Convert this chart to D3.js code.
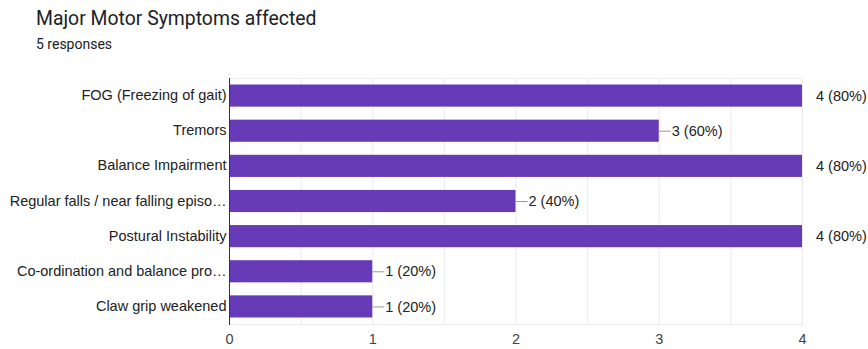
<!DOCTYPE html>
<html>
<head>
<meta charset="utf-8">
<script src="https://cdn.jsdelivr.net/npm/d3@7"></script>
<style>
  html, body { margin: 0; padding: 0; background: #fff; }
  svg { display: block; font-family: "Liberation Sans", Arial, sans-serif; }
</style>
</head>
<body>
<svg id="chart" width="868" height="349"></svg>
<script>
// Survey answers: how many of the respondents reported each motor symptom
const categories = [
  "FOG (Freezing of gait)",
  "Tremors",
  "Balance Impairment",
  "Regular falls / near falling episo…",
  "Postural Instability",
  "Co-ordination and balance pro…",
  "Claw grip weakened"
];
const counts = [4, 3, 4, 2, 4, 1, 1];
const totalResponses = 5;
const xTicks = [0, 1, 2, 3, 4];
const gridSteps = [0.5, 1, 1.5, 2, 2.5, 3, 3.5, 4];

const svg = d3.select("#chart");
const plotLeft = 229, plotRight = 802, plotTop = 78, plotBottom = 324;
const labelFont = "\"Liberation Sans\", Arial, sans-serif";
const headFont = "Roboto, Arial, sans-serif";
const labelSize = 14.5;

const x = d3.scaleLinear().domain([0, 4]).range([plotLeft, plotRight]);
const y = d3.scaleBand().domain(categories).range([plotTop, plotBottom]).paddingInner(0.37).paddingOuter(0.185);

// Title block
svg.append("text").attr("x", 36).attr("y", 25).attr("font-family", headFont)
  .attr("font-size", 19.4).attr("fill", "#202124").text("Major Motor Symptoms affected");
svg.append("text").attr("x", 36).attr("y", 49).attr("font-family", headFont)
  .attr("font-size", 14).attr("fill", "#202124").text(totalResponses + " responses");

// Gridlines and frame
const grid = svg.append("g");
grid.selectAll("line.v").data(gridSteps).join("line")
  .attr("x1", d => x(d) + 0.5).attr("x2", d => x(d) + 0.5)
  .attr("y1", plotTop).attr("y2", plotBottom)
  .attr("stroke", "#ebebeb").attr("stroke-width", 1);
grid.selectAll("line.h").data([plotTop, plotBottom]).join("line")
  .attr("x1", plotLeft).attr("x2", plotRight + 1)
  .attr("y1", d => d + 0.5).attr("y2", d => d + 0.5)
  .attr("stroke", "#ebebeb").attr("stroke-width", 1);

// Bars
svg.append("g").selectAll("rect").data(categories).join("rect")
  .attr("x", x(0))
  .attr("y", d => y(d))
  .attr("width", (d, i) => x(counts[i]) - x(0))
  .attr("height", y.bandwidth())
  .attr("fill", "#673ab7");

// Value labels
const pct = v => `${v} (${Math.round(v / totalResponses * 100)}%)`;
const labels = svg.append("g").attr("font-size", labelSize).attr("fill", "#222").attr("font-family", labelFont);
categories.forEach((c, i) => {
  const v = counts[i];
  const cy = y(c) + y.bandwidth() / 2;
  if (v >= 4) {
    labels.append("text").attr("x", x(v) + 14).attr("y", cy).attr("dy", "0.35em").text(pct(v));
  } else {
    labels.append("line")
      .attr("x1", x(v)).attr("x2", x(v) + 12)
      .attr("y1", cy + 0.5).attr("y2", cy + 0.5)
      .attr("stroke", "#999").attr("stroke-width", 1);
    labels.append("text").attr("x", x(v) + 13).attr("y", cy).attr("dy", "0.35em").text(pct(v));
  }
});

// Category axis
const yAxis = svg.append("g").attr("transform", `translate(${plotLeft + 0.5},0)`)
  .call(d3.axisLeft(y).tickSize(0).tickPadding(3));
yAxis.select(".domain").attr("stroke", "#333").attr("d", `M0,${plotTop}V${plotBottom + 1}`);
yAxis.selectAll("text").attr("font-size", labelSize).attr("fill", "#222").attr("font-family", labelFont);

// Value axis
const xAxis = svg.append("g").attr("transform", `translate(0,${plotBottom})`)
  .call(d3.axisBottom(x).tickValues(xTicks).tickFormat(d3.format("d")).tickSize(0).tickPadding(10));
xAxis.select(".domain").remove();
xAxis.selectAll("text").attr("font-size", labelSize).attr("fill", "#444").attr("font-family", labelFont);
</script>
</body>
</html>
